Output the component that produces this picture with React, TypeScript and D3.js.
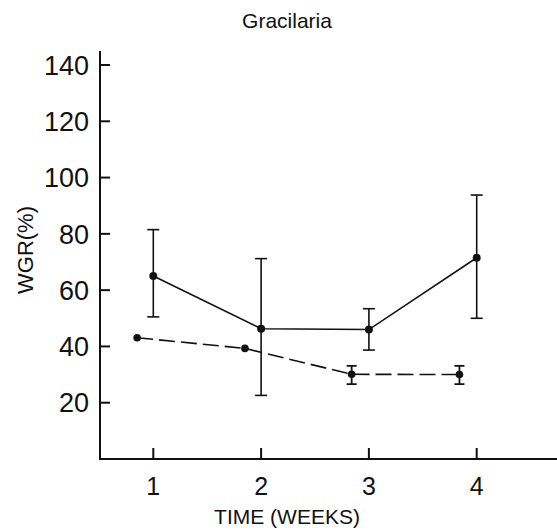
import React from "react";
import * as d3 from "d3";

const title = "Gracilaria";
const yTicks = [20, 40, 60, 80, 100, 120, 140];
const xTicks = [1, 2, 3, 4];
const xTickLabels = ["1", "2", "3", "4"];

const solidWeeks = [1, 2, 3, 4];
const solidMean = [65, 46.3, 46, 71.5];
const solidHi = [81.5, 71.2, 53.4, 93.8];
const solidLo = [50.5, 22.6, 38.7, 50];

const dashedWeeks = [0.85, 1.85, 2.84, 3.84];
const dashedMean = [43.1, 39.3, 30.1, 30];
const dashedHi: (number | null)[] = [null, null, 33.1, 33.1];
const dashedLo: (number | null)[] = [null, null, 26.6, 26.6];

const W = 557;
const H = 530;

export default function App() {
  const x = d3.scaleLinear().domain([1, 4]).range([153.3, 476.7]);
  const y = d3.scaleLinear().domain([0, 140]).range([459, 65]);
  const x0 = 100;
  const yBase = y(0);
  const line = d3
    .line<[number, number]>()
    .x((d) => x(d[0]))
    .y((d) => y(d[1]));
  const solidPts: [number, number][] = solidWeeks.map((w, i) => [w, solidMean[i]]);
  const dashedPts: [number, number][] = dashedWeeks.map((w, i) => [w, dashedMean[i]]);
  const font = "'Liberation Sans', Arial, sans-serif";
  return (
    <svg
      width={W}
      height={H}
      style={{ position: "absolute", left: 0, top: 0, background: "#fff" }}
      fontFamily={font}
    >
      <text x={287} y={28} fontSize={21} textAnchor="middle" fill="#111">
        {title}
      </text>
      {/* axes */}
      <line x1={x0} x2={x0} y1={y(145)} y2={yBase + 1} stroke="#111" strokeWidth={2} />
      <line x1={x0 - 1} x2={W} y1={yBase} y2={yBase} stroke="#111" strokeWidth={2} />
      {yTicks.map((t) => (
        <g key={t}>
          <line x1={x0} x2={x0 + 10} y1={y(t)} y2={y(t)} stroke="#111" strokeWidth={2} />
          <text
            x={89}
            y={y(t)}
            dy="0.36em"
            textAnchor="end"
            fontSize={27}
            fill="#111"
          >
            {t}
          </text>
        </g>
      ))}
      {xTicks.map((t, i) => (
        <g key={t}>
          <line x1={x(t)} x2={x(t)} y1={yBase} y2={yBase - 11} stroke="#111" strokeWidth={2} />
          <text x={x(t)} y={495} textAnchor="middle" fontSize={25} fill="#111">
            {xTickLabels[i]}
          </text>
        </g>
      ))}
      <text x={287} y={524} textAnchor="middle" fontSize={21} fill="#111">
        TIME (WEEKS)
      </text>
      <text
        transform={`translate(33,250) rotate(-90)`}
        textAnchor="middle"
        fontSize={22}
        fill="#111"
      >
        WGR(%)
      </text>
      {/* solid series */}
      <path d={line(solidPts) || ""} fill="none" stroke="#111" strokeWidth={1.6} />
      {solidWeeks.map((w, i) => (
        <g key={"s" + i}>
          <line x1={x(w)} x2={x(w)} y1={y(solidHi[i])} y2={y(solidLo[i])} stroke="#111" strokeWidth={1.6} />
          <line x1={x(w) - 6} x2={x(w) + 6} y1={y(solidHi[i])} y2={y(solidHi[i])} stroke="#111" strokeWidth={1.6} />
          <line x1={x(w) - 6} x2={x(w) + 6} y1={y(solidLo[i])} y2={y(solidLo[i])} stroke="#111" strokeWidth={1.6} />
          <circle cx={x(w)} cy={y(solidMean[i])} r={4} fill="#111" />
        </g>
      ))}
      {/* dashed series */}
      <path
        d={line(dashedPts) || ""}
        fill="none"
        stroke="#111"
        strokeWidth={1.6}
        strokeDasharray="16 6"
      />
      {dashedWeeks.map((w, i) => (
        <g key={"d" + i}>
          {dashedHi[i] != null && dashedLo[i] != null && (
            <>
              <line x1={x(w)} x2={x(w)} y1={y(dashedHi[i] as number)} y2={y(dashedLo[i] as number)} stroke="#111" strokeWidth={1.8} />
              <line x1={x(w) - 5} x2={x(w) + 5} y1={y(dashedHi[i] as number)} y2={y(dashedHi[i] as number)} stroke="#111" strokeWidth={1.8} />
              <line x1={x(w) - 5} x2={x(w) + 5} y1={y(dashedLo[i] as number)} y2={y(dashedLo[i] as number)} stroke="#111" strokeWidth={1.8} />
            </>
          )}
          <circle cx={x(w)} cy={y(dashedMean[i])} r={3.8} fill="#111" />
        </g>
      ))}
    </svg>
  );
}
